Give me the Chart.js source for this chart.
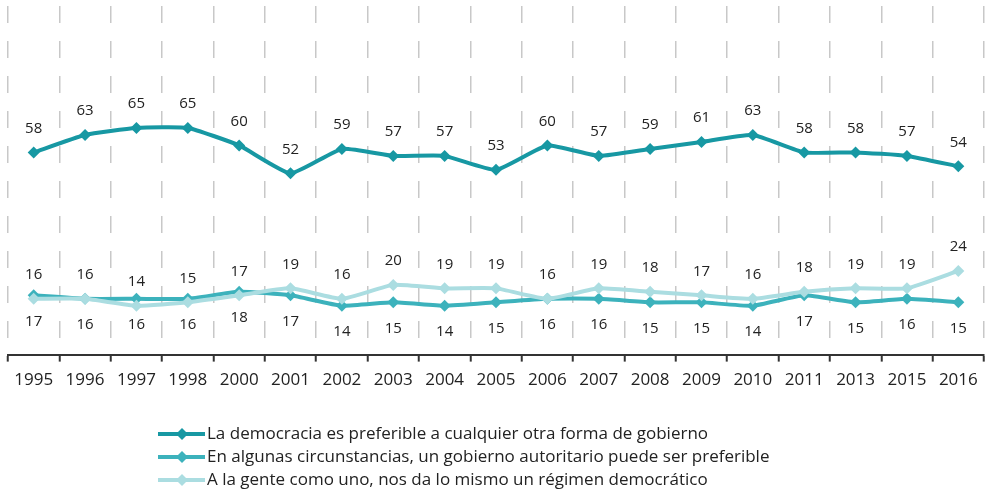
<!DOCTYPE html>
<html><head><meta charset="utf-8">
<script src="https://cdn.jsdelivr.net/npm/chart.js@4/dist/chart.umd.min.js"></script>
<style>html,body{margin:0;padding:0;background:#fff}#wrap{width:990px;height:494px;position:relative}</style>
</head><body><div id="wrap"><canvas id="c" width="990" height="494"></canvas></div>
<script>
const years = ['1995','1996','1997','1998','2000','2001','2002','2003','2004','2005','2006','2007','2008','2009','2010','2011','2013','2015','2016'];
const democracia = [58,63,65,65,60,52,59,57,57,53,60,57,59,61,63,58,58,57,54];
const autoritario = [17,16,16,16,18,17,14,15,14,15,16,16,15,15,14,17,15,16,15];
const indiferente = [16,16,14,15,17,19,16,20,19,19,16,19,18,17,16,18,19,19,24];
const seriesNames = [
  'La democracia es preferible a cualquier otra forma de gobierno',
  'En algunas circunstancias, un gobierno autoritario puede ser preferible',
  'A la gente como uno, nos da lo mismo un régimen democrático'
];
const colors = ['#1798a3','#3cb2bc','#abdde1'];
const labelPos = ['above','below','above'];
const FONT = '"Open Sans", sans-serif';

const labelPlugin = {
  id: 'vlabels',
  afterDatasetsDraw(chart) {
    const ctx = chart.ctx;
    ctx.save();
    ctx.font = '15px ' + FONT;
    ctx.fillStyle = '#222';
    ctx.textAlign = 'center';
    ctx.textBaseline = 'middle';
    chart.data.datasets.forEach((ds, i) => {
      const meta = chart.getDatasetMeta(i);
      meta.data.forEach((pt, j) => {
        const dy = labelPos[i] === 'above' ? -24 : 26;
        ctx.fillText(String(ds.data[j]), pt.x, pt.y + dy);
      });
    });
    ctx.restore();
  }
};

const legendPlugin = {
  id: 'customLegend',
  afterDraw(chart) {
    const ctx = chart.ctx;
    ctx.save();
    const x0 = 158, rows = [434, 457, 480];
    chart.data.datasets.forEach((ds, i) => {
      const y = rows[i];
      ctx.strokeStyle = colors[i];
      ctx.lineWidth = 4;
      ctx.beginPath(); ctx.moveTo(x0, y); ctx.lineTo(x0 + 47, y); ctx.stroke();
      ctx.fillStyle = colors[i];
      ctx.beginPath();
      const cx = x0 + 24, r = 6;
      ctx.moveTo(cx, y - r); ctx.lineTo(cx + r, y); ctx.lineTo(cx, y + r); ctx.lineTo(cx - r, y); ctx.closePath(); ctx.fill();
      ctx.fillStyle = '#222';
      ctx.font = '17px ' + FONT;
      ctx.textAlign = 'left';
      ctx.textBaseline = 'middle';
      ctx.fillText(ds.label, x0 + 49, y);
    });
    ctx.restore();
  }
};

function mk(i, data, order) {
  return {
    label: seriesNames[i], data: data,
    borderColor: colors[i], backgroundColor: colors[i],
    borderWidth: 4, pointStyle: 'rectRot', pointRadius: 6, pointHoverRadius: 6,
    pointBorderWidth: 0, tension: 0.15, order: order
  };
}

new Chart(document.getElementById('c'), {
  type: 'line',
  data: { labels: years, datasets: [mk(0, democracia, 2), mk(1, autoritario, 1), mk(2, indiferente, 0)] },
  options: {
    responsive: false, animation: false,
    layout: { padding: { left: 8, right: 5, top: 3, bottom: 96 } },
    plugins: { legend: { display: false }, tooltip: { enabled: false } },
    scales: {
      x: {
        offset: true,
        grid: { offset: true, color: '#c8c8c8', lineWidth: 1.5, drawTicks: true,
                tickLength: 7, tickColor: '#333', tickWidth: 2, tickBorderDash: [] },
        border: { display: true, color: '#333', width: 2, dash: [17, 18], dashOffset: 0 },
        ticks: { color: '#222', font: { family: FONT, size: 17 }, padding: 8, maxRotation: 0, autoSkip: false }
      },
      y: { display: false, min: 0, max: 100 }
    }
  },
  plugins: [labelPlugin, legendPlugin]
});
</script></body></html>
